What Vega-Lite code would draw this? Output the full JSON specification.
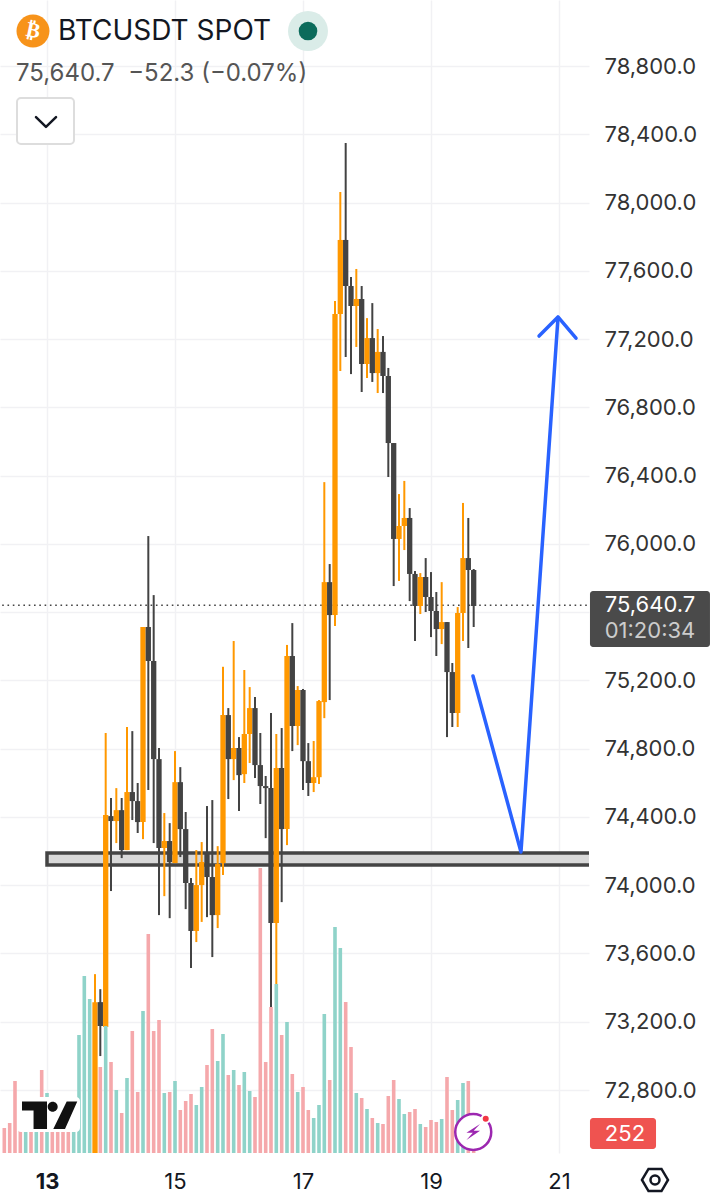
{
"$schema":"https://vega.github.io/schema/vega-lite/v6.json",
"width":589,"height":1153,"padding":0,"autosize":{"type":"pad"},"background":"#ffffff",
"config":{"view":{"stroke":null},"font":"Inter","text":{"font":"Inter"}},
"datasets":{
"candles":[
{"day":13.75,"dir":"up","high":73479,"open":72300,"close":73315,"low":72300},
{"day":13.833,"dir":"down","high":73391,"open":73315,"close":73175,"low":72999},
{"day":13.917,"dir":"up","high":74892,"open":73169,"close":74411,"low":73169},
{"day":14.0,"dir":"down","high":74511,"open":74405,"close":74376,"low":73966},
{"day":14.083,"dir":"up","high":74569,"open":74376,"close":74440,"low":74247},
{"day":14.167,"dir":"down","high":74511,"open":74440,"close":74206,"low":74159},
{"day":14.25,"dir":"up","high":74927,"open":74206,"close":74546,"low":74206},
{"day":14.333,"dir":"down","high":74903,"open":74546,"close":74493,"low":74382},
{"day":14.417,"dir":"down","high":74599,"open":74493,"close":74370,"low":74306},
{"day":14.5,"dir":"up","high":75513,"open":74370,"close":75513,"low":74270},
{"day":14.583,"dir":"down","high":76046,"open":75513,"close":75314,"low":74558},
{"day":14.667,"dir":"down","high":75700,"open":75314,"close":74739,"low":74247},
{"day":14.75,"dir":"down","high":74804,"open":74739,"close":74218,"low":73825},
{"day":14.833,"dir":"up","high":74423,"open":74218,"close":74259,"low":73936},
{"day":14.917,"dir":"down","high":74364,"open":74259,"close":74136,"low":73807},
{"day":15.0,"dir":"up","high":74786,"open":74130,"close":74604,"low":74130},
{"day":15.083,"dir":"down","high":74692,"open":74604,"close":74329,"low":74165},
{"day":15.167,"dir":"down","high":74429,"open":74329,"close":74013,"low":73860},
{"day":15.25,"dir":"down","high":74042,"open":74013,"close":73732,"low":73515},
{"day":15.333,"dir":"up","high":74206,"open":73732,"close":74001,"low":73667},
{"day":15.417,"dir":"up","high":74253,"open":74001,"close":74136,"low":73785},
{"day":15.5,"dir":"down","high":74464,"open":74189,"close":74048,"low":73813},
{"day":15.583,"dir":"down","high":74499,"open":74048,"close":73825,"low":73579},
{"day":15.667,"dir":"up","high":74229,"open":73825,"close":74124,"low":73749},
{"day":15.75,"dir":"up","high":75280,"open":74130,"close":74997,"low":74060},
{"day":15.833,"dir":"down","high":75038,"open":74997,"close":74739,"low":74505},
{"day":15.917,"dir":"up","high":75431,"open":74739,"close":74804,"low":74616},
{"day":16.0,"dir":"down","high":74868,"open":74804,"close":74645,"low":74435},
{"day":16.083,"dir":"up","high":75261,"open":74651,"close":74886,"low":74599},
{"day":16.167,"dir":"up","high":75161,"open":74886,"close":75038,"low":74716},
{"day":16.25,"dir":"down","high":75103,"open":75038,"close":74704,"low":74628},
{"day":16.333,"dir":"down","high":74892,"open":74704,"close":74581,"low":74476},
{"day":16.417,"dir":"down","high":74640,"open":74581,"close":74569,"low":74276},
{"day":16.5,"dir":"down","high":75009,"open":74569,"close":73778,"low":73268},
{"day":16.583,"dir":"up","high":74886,"open":73778,"close":74687,"low":73386},
{"day":16.667,"dir":"down","high":74921,"open":74687,"close":74329,"low":73901},
{"day":16.75,"dir":"up","high":75408,"open":74329,"close":75343,"low":74235},
{"day":16.833,"dir":"down","high":75536,"open":75343,"close":74933,"low":74786},
{"day":16.917,"dir":"up","high":75167,"open":74933,"close":75144,"low":74821},
{"day":17.0,"dir":"down","high":75150,"open":75144,"close":74727,"low":74558},
{"day":17.083,"dir":"down","high":74833,"open":74727,"close":74599,"low":74523},
{"day":17.167,"dir":"up","high":74845,"open":74599,"close":74633,"low":74546},
{"day":17.25,"dir":"up","high":75085,"open":74633,"close":75079,"low":74593},
{"day":17.333,"dir":"up","high":76362,"open":75073,"close":75776,"low":74979},
{"day":17.417,"dir":"down","high":75882,"open":75776,"close":75583,"low":75085},
{"day":17.5,"dir":"up","high":77423,"open":75583,"close":77347,"low":75519},
{"day":17.583,"dir":"up","high":78062,"open":77347,"close":77781,"low":77013},
{"day":17.667,"dir":"down","high":78349,"open":77781,"close":77511,"low":77095},
{"day":17.75,"dir":"down","high":77564,"open":77511,"close":77394,"low":76995},
{"day":17.833,"dir":"up","high":77611,"open":77394,"close":77435,"low":77154},
{"day":17.917,"dir":"down","high":77511,"open":77435,"close":77054,"low":76890},
{"day":18.0,"dir":"up","high":77323,"open":77054,"close":77206,"low":76972},
{"day":18.083,"dir":"down","high":77411,"open":77206,"close":77001,"low":76949},
{"day":18.167,"dir":"up","high":77259,"open":77001,"close":77125,"low":76884},
{"day":18.25,"dir":"down","high":77218,"open":77125,"close":76984,"low":76884},
{"day":18.333,"dir":"down","high":77031,"open":76984,"close":76591,"low":76392},
{"day":18.417,"dir":"down","high":76591,"open":76591,"close":76029,"low":75753},
{"day":18.5,"dir":"up","high":76292,"open":76029,"close":76105,"low":75783},
{"day":18.583,"dir":"up","high":76369,"open":76105,"close":76152,"low":75964},
{"day":18.667,"dir":"down","high":76210,"open":76152,"close":75824,"low":75665},
{"day":18.75,"dir":"down","high":75841,"open":75824,"close":75636,"low":75431},
{"day":18.833,"dir":"up","high":75829,"open":75636,"close":75806,"low":75589},
{"day":18.917,"dir":"down","high":75917,"open":75806,"close":75689,"low":75601},
{"day":19.0,"dir":"down","high":75835,"open":75689,"close":75607,"low":75454},
{"day":19.083,"dir":"down","high":75718,"open":75607,"close":75501,"low":75343},
{"day":19.167,"dir":"up","high":75776,"open":75501,"close":75542,"low":75413},
{"day":19.25,"dir":"down","high":75542,"open":75542,"close":75249,"low":74868},
{"day":19.333,"dir":"down","high":75302,"open":75249,"close":75009,"low":74927},
{"day":19.417,"dir":"up","high":75630,"open":75009,"close":75595,"low":74927},
{"day":19.5,"dir":"up","high":76240,"open":75595,"close":75917,"low":75431},
{"day":19.583,"dir":"down","high":76152,"open":75917,"close":75847,"low":75390},
{"day":19.667,"dir":"down","high":75853,"open":75847,"close":75636,"low":75513}
],
"volume":[
{"day":12.333,"side":"sell","vol":2500},{"day":12.417,"side":"sell","vol":3000},{"day":12.5,"side":"sell","vol":7200},{"day":12.583,"side":"sell","vol":3800},{"day":12.667,"side":"buy","vol":3400},{"day":12.75,"side":"sell","vol":2800},{"day":12.833,"side":"buy","vol":2600},{"day":12.917,"side":"sell","vol":8300},{"day":13.0,"side":"buy","vol":6000},{"day":13.083,"side":"sell","vol":2600},{"day":13.167,"side":"sell","vol":2600},{"day":13.25,"side":"sell","vol":2600},{"day":13.333,"side":"sell","vol":2600},{"day":13.417,"side":"buy","vol":4500},{"day":13.5,"side":"buy","vol":11800},{"day":13.583,"side":"buy","vol":17700},{"day":13.667,"side":"buy","vol":15400},
{"day":13.833,"side":"sell","vol":8600},{"day":13.917,"side":"buy","vol":12700},{"day":14.0,"side":"sell","vol":9100},{"day":14.083,"side":"buy","vol":6300},{"day":14.167,"side":"sell","vol":4000},{"day":14.25,"side":"buy","vol":7500},{"day":14.333,"side":"sell","vol":12200},{"day":14.417,"side":"sell","vol":6100},{"day":14.5,"side":"buy","vol":14200},{"day":14.583,"side":"sell","vol":21900},{"day":14.667,"side":"sell","vol":12200},{"day":14.75,"side":"sell","vol":13300},{"day":14.833,"side":"buy","vol":6000},{"day":14.917,"side":"sell","vol":6100},{"day":15.0,"side":"buy","vol":7200},{"day":15.083,"side":"sell","vol":4300},{"day":15.167,"side":"sell","vol":5200},{"day":15.25,"side":"sell","vol":5900},{"day":15.333,"side":"buy","vol":4800},{"day":15.417,"side":"buy","vol":6600},{"day":15.5,"side":"sell","vol":8800},{"day":15.583,"side":"sell","vol":12400},{"day":15.667,"side":"buy","vol":9200},{"day":15.75,"side":"buy","vol":11900},{"day":15.833,"side":"sell","vol":7800},{"day":15.917,"side":"buy","vol":8300},{"day":16.0,"side":"sell","vol":6800},{"day":16.083,"side":"buy","vol":8100},{"day":16.167,"side":"buy","vol":6200},{"day":16.25,"side":"sell","vol":5600},{"day":16.333,"side":"sell","vol":28500},{"day":16.417,"side":"sell","vol":9100},{"day":16.5,"side":"sell","vol":14600},{"day":16.583,"side":"buy","vol":16900},{"day":16.667,"side":"sell","vol":11800},{"day":16.75,"side":"buy","vol":13100},{"day":16.833,"side":"sell","vol":7900},{"day":16.917,"side":"buy","vol":6100},{"day":17.0,"side":"sell","vol":6600},{"day":17.083,"side":"sell","vol":4300},{"day":17.167,"side":"buy","vol":3500},{"day":17.25,"side":"buy","vol":4800},{"day":17.333,"side":"buy","vol":13900},{"day":17.417,"side":"sell","vol":7300},{"day":17.5,"side":"buy","vol":22600},{"day":17.583,"side":"buy","vol":20500},{"day":17.667,"side":"sell","vol":15100},{"day":17.75,"side":"sell","vol":10600},{"day":17.833,"side":"buy","vol":6000},{"day":17.917,"side":"sell","vol":5500},{"day":18.0,"side":"buy","vol":4400},{"day":18.083,"side":"sell","vol":3500},{"day":18.167,"side":"buy","vol":3000},{"day":18.25,"side":"sell","vol":2900},{"day":18.333,"side":"sell","vol":5700},{"day":18.417,"side":"sell","vol":7300},{"day":18.5,"side":"buy","vol":5400},{"day":18.583,"side":"buy","vol":3900},{"day":18.667,"side":"sell","vol":4100},{"day":18.75,"side":"sell","vol":4400},{"day":18.833,"side":"buy","vol":2900},{"day":18.917,"side":"sell","vol":2600},{"day":19.0,"side":"sell","vol":3300},{"day":19.083,"side":"sell","vol":3100},{"day":19.167,"side":"buy","vol":3400},{"day":19.25,"side":"sell","vol":7600},{"day":19.333,"side":"sell","vol":4300},{"day":19.417,"side":"buy","vol":5300},{"day":19.5,"side":"buy","vol":7000},{"day":19.583,"side":"sell","vol":7200},{"day":19.667,"side":"sell","vol":252}
]
},
"data":{"name":"candles"},
"encoding":{"x":{"field":"day","type":"quantitative","scale":{"domain":[12.2656,21.4688],"nice":false,"zero":false,"padding":0},"axis":{"values":[13,15,17,19,21],"format":"d","grid":true,"gridColor":"#f1f1f4","gridWidth":1.5,"domain":false,"ticks":false,"title":null,"labelFont":"Inter","labelFontSize":22,"labelColor":"#131722","labelPadding":28,"labelBaseline":"middle","labelOverlap":false,"labelFlush":false,"labelFontWeight":{"condition":{"test":"datum.value==13","value":"bold"},"value":"normal"}}}},
"layer":[
{"data":{"values":[{"day":13,"day2":21.7,"price":74189,"price2":74119}]},"mark":{"type":"rect","fill":"#d9d9d9","stroke":"#444444","strokeWidth":3.5,"clip":true},
 "encoding":{"x2":{"field":"day2"},"y":{"field":"price","type":"quantitative","scale":{"domain":[72431,79187],"nice":false,"zero":false},"axis":{"values":[72800,73200,73600,74000,74400,74800,75200,75600,76000,76400,76800,77200,77600,78000,78400,78800],"labelExpr":"datum.value==75600?'':format(datum.value,',.1f')","grid":true,"gridColor":"#f1f1f4","gridWidth":1.5,"domain":false,"ticks":false,"title":null,"orient":"right","labelFont":"Inter","labelFontSize":22,"labelColor":"#333333","labelPadding":15,"labelBaseline":"middle","labelOverlap":false,"labelFlush":false}},"y2":{"field":"price2"}}},
{"data":{"values":[{"day":12.3,"day2":21.4687,"price":75640.7}]},"mark":{"type":"rule","stroke":"#444444","strokeWidth":1.5,"strokeDash":[1.6,3.7]},
 "encoding":{"x2":{"field":"day2"},"y":{"field":"price","type":"quantitative","scale":{"domain":[72431,79187],"nice":false,"zero":false},"axis":null}}},
{"mark":{"type":"rule","strokeWidth":2,"clip":true},
 "encoding":{"y":{"field":"high","type":"quantitative","scale":{"domain":[72431,79187],"nice":false,"zero":false},"axis":null},"y2":{"field":"low"},"color":{"field":"dir","type":"nominal","scale":{"domain":["up","down"],"range":["#FF9800","#434343"]},"legend":null}}},
{"mark":{"type":"rule","strokeWidth":5.3,"clip":true},
 "encoding":{"y":{"field":"open","type":"quantitative","scale":{"domain":[72431,79187],"nice":false,"zero":false},"axis":null},"y2":{"field":"close"},"color":{"field":"dir","type":"nominal","scale":{"domain":["up","down"],"range":["#FF9800","#434343"]},"legend":null}}},
{"data":{"name":"volume"},"mark":{"type":"bar","size":3.6,"clip":true},
 "encoding":{"y":{"field":"vol","type":"quantitative","stack":null,"scale":{"domain":[0,115300],"nice":false,"zero":false},"axis":null},"color":{"field":"side","type":"nominal","scale":{"domain":["buy","sell"],"range":["#8FD3C9","#F5A8AB"]},"legend":null}}},
{"data":{"values":[{"group":"path","order":1,"day":19.656,"price":75226},{"group":"path","order":2,"day":20.406,"price":74195},{"group":"path","order":3,"day":20.984,"price":77323},{"group":"head","order":1,"day":20.688,"price":77218},{"group":"head","order":2,"day":20.984,"price":77330},{"group":"head","order":3,"day":21.266,"price":77206}]},
 "mark":{"type":"line","stroke":"#2962FF","strokeWidth":3.5,"strokeCap":"round","strokeJoin":"round"},
 "encoding":{"y":{"field":"price","type":"quantitative","scale":{"domain":[72431,79187],"nice":false,"zero":false},"axis":null},"detail":{"field":"group"},"order":{"field":"order"}}},
{"data":{"values":[{"day":12.531,"day2":13.516,"price":72759,"price2":72554}]},"mark":{"type":"rect","fill":"#ffffff","cornerRadius":4},
 "encoding":{"x2":{"field":"day2"},"y":{"field":"price","type":"quantitative","scale":{"domain":[72431,79187],"nice":false,"zero":false},"axis":null},"y2":{"field":"price2"}}},
{"data":{"values":[{"day":13.039,"price":72654}]},"mark":{"type":"point","filled":true,"fill":"#111111","stroke":null,"opacity":1,"size":3025,"shape":"M-1,-0.49L-0.09,-0.49L-0.09,0.51L-0.58,0.51L-0.58,-0.164L-1,-0.164ZM0.625,-0.49L1.01,-0.49L0.564,0.51L0.138,0.51ZM-0.066,-0.302a0.182,0.182 0 1,0 0.364,0a0.182,0.182 0 1,0 -0.364,0Z"},
 "encoding":{"y":{"field":"price","type":"quantitative","scale":{"domain":[72431,79187],"nice":false,"zero":false},"axis":null}}},
{"data":{"values":[{"day":19.66,"price":72554}]},"mark":{"type":"point","filled":false,"fill":"#ffffff","stroke":"#9C27B0","strokeWidth":2.5,"opacity":1,"size":1296,"shape":"circle"},
 "encoding":{"y":{"field":"price","type":"quantitative","scale":{"domain":[72431,79187],"nice":false,"zero":false},"axis":null}}},
{"data":{"values":[{"day":19.66,"price":72554}]},"mark":{"type":"point","filled":true,"fill":"#9C27B0","stroke":null,"opacity":1,"size":256,"shape":"M0.85,-1L-0.85,0.1L-0.05,0.1L-0.85,1L0.85,-0.15L0.05,-0.15Z"},
 "encoding":{"y":{"field":"price","type":"quantitative","scale":{"domain":[72431,79187],"nice":false,"zero":false},"axis":null}}},
{"data":{"values":[{"day":19.855,"price":72632}]},"mark":{"type":"point","filled":true,"fill":"#F23645","stroke":"#ffffff","strokeWidth":2,"opacity":1,"size":64,"shape":"circle"},
 "encoding":{"y":{"field":"price","type":"quantitative","scale":{"domain":[72431,79187],"nice":false,"zero":false},"axis":null}}},
{"data":{"values":[{"day":12.781,"price":79005}]},"mark":{"type":"point","filled":true,"fill":"#F7931A","stroke":null,"opacity":1,"size":1089,"shape":"circle"},
 "encoding":{"y":{"field":"price","type":"quantitative","scale":{"domain":[72431,79187],"nice":false,"zero":false},"axis":null}}},
{"data":{"values":[{"day":12.781,"price":79005,"label":"₿"}]},"mark":{"type":"text","font":"DejaVu Sans","fontWeight":"bold","fontSize":21,"fill":"#ffffff","angle":12,"align":"center","baseline":"middle"},
 "encoding":{"y":{"field":"price","type":"quantitative","scale":{"domain":[72431,79187],"nice":false,"zero":false},"axis":null},"text":{"field":"label"}}},
{"data":{"values":[{"day":17.078,"price":79005}]},"mark":{"type":"point","filled":true,"fill":"#DAECE8","stroke":null,"opacity":1,"size":1600,"shape":"circle"},
 "encoding":{"y":{"field":"price","type":"quantitative","scale":{"domain":[72431,79187],"nice":false,"zero":false},"axis":null}}},
{"data":{"values":[{"day":17.078,"price":79005}]},"mark":{"type":"point","filled":true,"fill":"#0B6B5B","stroke":null,"opacity":1,"size":346,"shape":"circle"},
 "encoding":{"y":{"field":"price","type":"quantitative","scale":{"domain":[72431,79187],"nice":false,"zero":false},"axis":null}}},
{"data":{"values":[{"day":13.172,"price":79000,"label":"BTCUSDT SPOT"}]},"mark":{"type":"text","font":"Inter","fontSize":28,"fill":"#131722","align":"left","baseline":"middle"},
 "encoding":{"y":{"field":"price","type":"quantitative","scale":{"domain":[72431,79187],"nice":false,"zero":false},"axis":null},"text":{"field":"label"}}},
{"data":{"values":[{"day":12.516,"price":78753,"label":"75,640.7\u00a0 −52.3 (−0.07%)"}]},"mark":{"type":"text","font":"Inter","fontSize":24,"fill":"#555555","align":"left","baseline":"middle"},
 "encoding":{"y":{"field":"price","type":"quantitative","scale":{"domain":[72431,79187],"nice":false,"zero":false},"axis":null},"text":{"field":"label"}}},
{"data":{"values":[{"day":12.531,"day2":13.422,"price":78613,"price2":78343}]},"mark":{"type":"rect","fill":"#ffffff","stroke":"#dddddd","strokeWidth":2,"cornerRadius":4},
 "encoding":{"x2":{"field":"day2"},"y":{"field":"price","type":"quantitative","scale":{"domain":[72431,79187],"nice":false,"zero":false},"axis":null},"y2":{"field":"price2"}}},
{"data":{"values":[{"order":1,"day":12.828,"price":78501},{"order":2,"day":12.984,"price":78443},{"order":3,"day":13.141,"price":78501}]},"mark":{"type":"line","stroke":"#131722","strokeWidth":2.5,"strokeCap":"round","strokeJoin":"round"},
 "encoding":{"y":{"field":"price","type":"quantitative","scale":{"domain":[72431,79187],"nice":false,"zero":false},"axis":null},"order":{"field":"order"}}},
{"data":{"values":[{"day":21.484,"day2":23.359,"price":75724,"price2":75396}]},"mark":{"type":"rect","fill":"#4A4A4A","cornerRadius":3},
 "encoding":{"x2":{"field":"day2"},"y":{"field":"price","type":"quantitative","scale":{"domain":[72431,79187],"nice":false,"zero":false},"axis":null},"y2":{"field":"price2"}}},
{"data":{"values":[{"day":21.484,"day2":22.516,"price":72636,"price2":72455}]},"mark":{"type":"rect","fill":"#EF5350","cornerRadius":3},
 "encoding":{"x2":{"field":"day2"},"y":{"field":"price","type":"quantitative","scale":{"domain":[72431,79187],"nice":false,"zero":false},"axis":null},"y2":{"field":"price2"}}},
{"data":{"values":[{"day":22.422,"price":75642,"label":"75,640.7"},{"day":22.031,"price":72542,"label":"252"}]},"mark":{"type":"text","font":"Inter","fontSize":22,"fill":"#ffffff","align":"center","baseline":"middle"},
 "encoding":{"y":{"field":"price","type":"quantitative","scale":{"domain":[72431,79187],"nice":false,"zero":false},"axis":null},"text":{"field":"label"}}},
{"data":{"values":[{"day":22.422,"price":75490,"label":"01:20:34"}]},"mark":{"type":"text","font":"Inter","fontSize":22,"fill":"#cccccc","align":"center","baseline":"middle"},
 "encoding":{"y":{"field":"price","type":"quantitative","scale":{"domain":[72431,79187],"nice":false,"zero":false},"axis":null},"text":{"field":"label"}}},
{"data":{"values":[{"day":22.5,"price":72273}]},"mark":{"type":"point","filled":false,"stroke":"#131722","strokeWidth":2.5,"opacity":1,"size":676,"shape":"M-1,0L-0.5,-0.85L0.5,-0.85L1,0L0.5,0.85L-0.5,0.85Z"},
 "encoding":{"y":{"field":"price","type":"quantitative","scale":{"domain":[72431,79187],"nice":false,"zero":false},"axis":null}}},
{"data":{"values":[{"day":22.5,"price":72273}]},"mark":{"type":"point","filled":false,"stroke":"#131722","strokeWidth":2.5,"opacity":1,"size":81,"shape":"circle"},
 "encoding":{"y":{"field":"price","type":"quantitative","scale":{"domain":[72431,79187],"nice":false,"zero":false},"axis":null}}}
],
"resolve":{"scale":{"y":"independent","color":"independent"},"axis":{"y":"independent"}}
}
